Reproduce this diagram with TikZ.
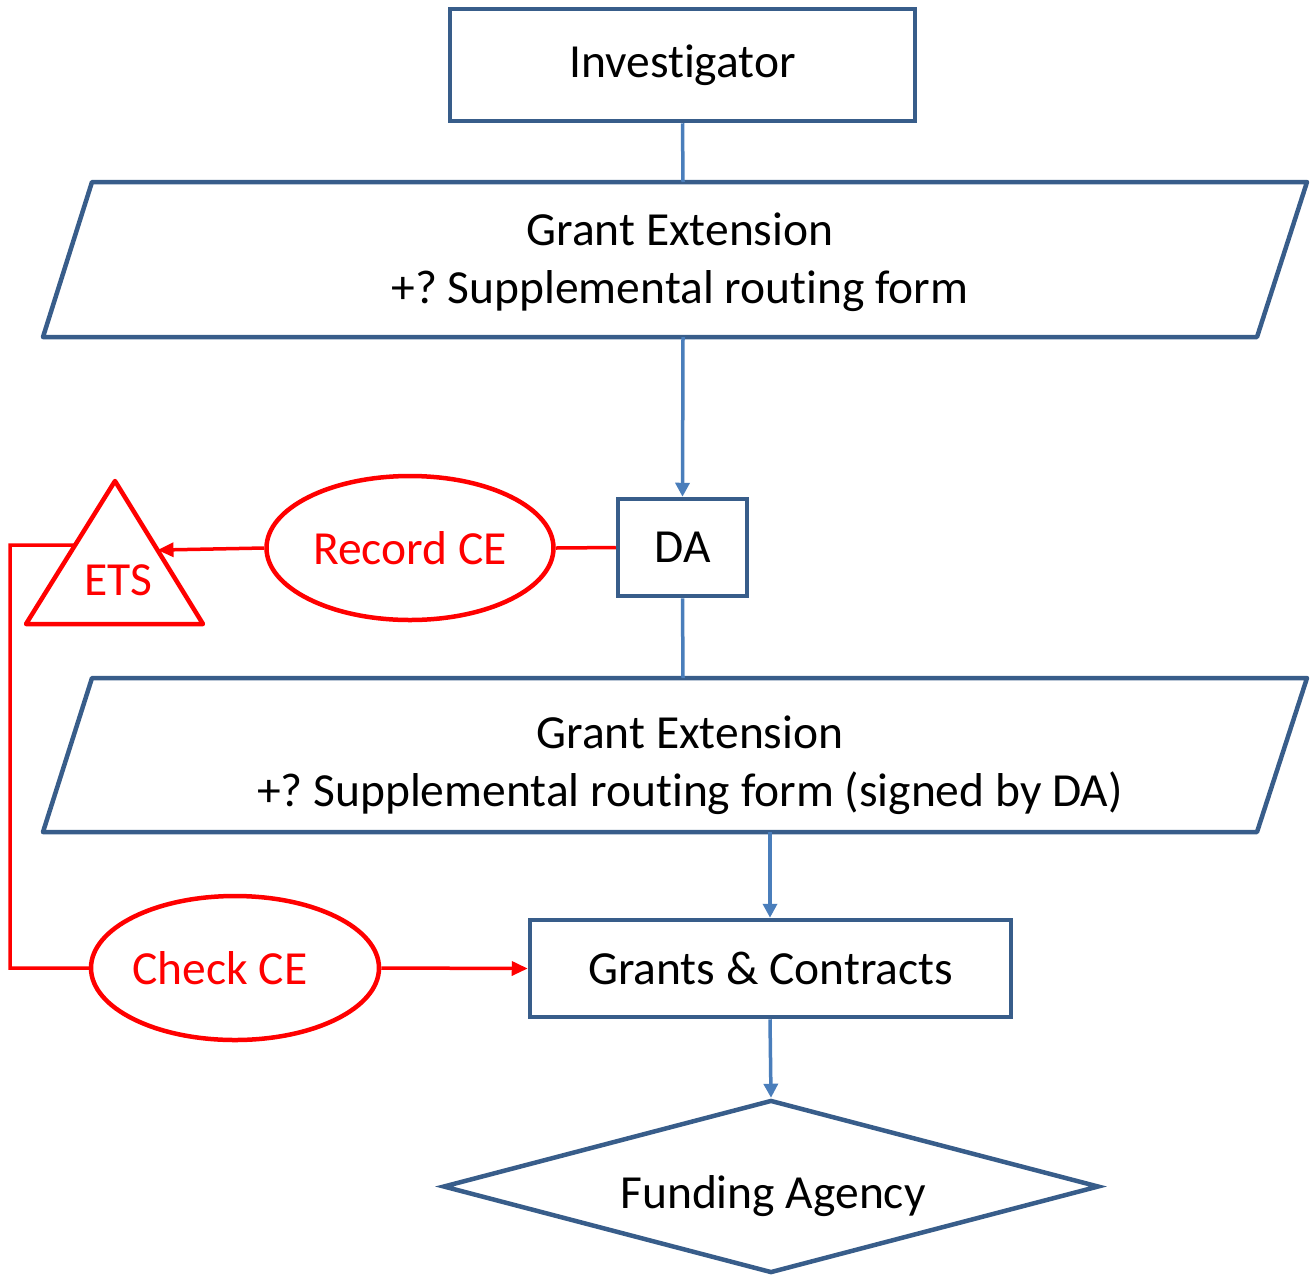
\documentclass[tikz,border=0pt]{standalone}
\usepackage{fontspec}
\setmainfont[RawFeature=-liga]{Carlito}
\usetikzlibrary{shapes.geometric,arrows.meta,calc}
\definecolor{boxblue}{RGB}{56,93,138}
\definecolor{lineblue}{RGB}{74,126,187}
\definecolor{myred}{RGB}{255,0,0}
\frenchspacing
\begin{document}
\begin{tikzpicture}[x=1pt,y=-1pt, font=\fontsize{47.5}{58}\selectfont,
 box/.style={draw=boxblue, line width=4.5pt, rectangle, inner sep=0pt},
 para/.style={draw=boxblue, line width=4.5pt, line join=round},
 conn/.style={draw=lineblue, line width=3.5pt},
 arr/.style={conn, -{Triangle[length=14pt,width=14pt]}},
 redell/.style={draw=myred, line width=4.5pt, ellipse, inner sep=0pt, text=myred, minimum width=287pt, minimum height=144pt},
 redline/.style={draw=myred, line width=3.5pt},
 redarr/.style={redline, -{Triangle[length=16pt,width=14pt]}},
]
\useasboundingbox (0,0) rectangle (1311,1275);

% Investigator
\node[box, minimum width=465pt, minimum height=112pt] (inv) at (682.5,65) {Investigator};

% Parallelogram 1
\draw[para] (92,182) -- (1307,182) -- (1257,337) -- (43,337) -- cycle;
\node[align=center] (p1) at (680,262) {Grant Extension\\+? Supplemental routing form};
\coordinate (p1t) at (683,182);
\coordinate (p1b) at (683,337);

% DA
\node[box, minimum width=129pt, minimum height=97pt] (da) at (682.5,547.5) {DA};

% Parallelogram 2
\draw[para] (92,678) -- (1307,678) -- (1257,832) -- (43,832) -- cycle;
\node[align=center] (p2) at (690,765) {Grant Extension\\+? Supplemental routing form (signed by DA)};
\coordinate (p2t) at (683,678);
\coordinate (p2b) at (770,832);

% Grants & Contracts
\node[box, minimum width=481pt, minimum height=97pt] (gc) at (770.5,968.5) {Grants \& Contracts};

% Funding Agency
\node[diamond, draw=boxblue, line width=4.5pt, inner sep=0pt, minimum width=656pt, minimum height=173pt] (fa) at (771,1186.5) {};
\node (fat) at (773,1196) {Funding Agency};

% Blue connectors
\draw[conn] (inv.south) -- (p1t);
\draw[arr] (p1b) -- (da.north);
\draw[conn] (da.south) -- (p2t);
\draw[arr] (p2b) -- (p2b |- gc.north);
\draw[arr] (gc.south -| p2b) -- (fa.north);

% Red: ellipses
\node[redell] (rce) at (410,548) {Record CE};
\node[redell, minimum width=288pt] (cce) at (235,968) {\hspace*{-30pt}Check CE};

% Triangle ETS
\coordinate (apex) at (115,481);
\coordinate (bl) at (26,624);
\coordinate (br) at (203,624);
\draw[myred, line width=4.5pt, line join=round] (apex) -- (br) -- (bl) -- cycle;
\node[text=myred] (ets) at (118,580) {ETS};
\coordinate (etsR) at ($(apex)!0.483!(br)$);
\coordinate (etsL) at ($(apex)!0.448!(bl)$);
\coordinate (c1) at (10,545);
\coordinate (c2) at (10,968);

% Red connectors
\draw[redline] (da.west) -- (rce.east);
\draw[redarr] (rce.west) -- (etsR);
\draw[redline] (etsL) -- (c1) -- (c2) -- (cce.west);
\draw[redarr] (cce.east) -- (gc.west);
\end{tikzpicture}
\end{document}
